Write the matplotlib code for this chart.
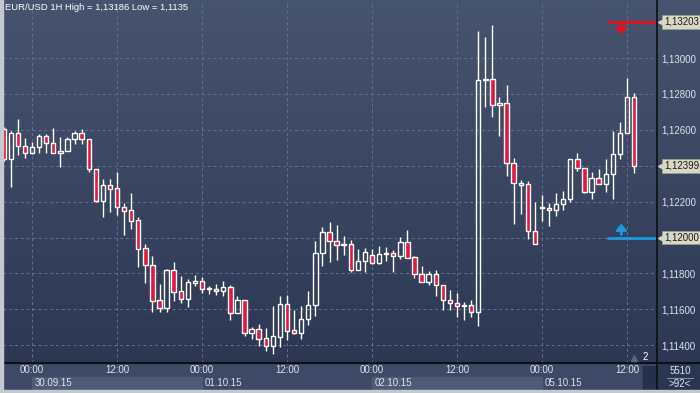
import matplotlib.pyplot as plt
import numpy as np
from matplotlib import transforms
from matplotlib.colors import LinearSegmentedColormap
from matplotlib.lines import Line2D
from matplotlib.patches import Rectangle

# hourly candles, index 0 = 30.09.15 00:00
hours = list(range(-4, 86))
opens = [1.12604, 1.12437, 1.12582, 1.12510, 1.12471, 1.12504, 1.12565, 1.12526, 1.12471, 1.12482,
         1.12549, 1.12582, 1.12549, 1.12382, 1.12203, 1.12292, 1.12276, 1.12170, 1.12153, 1.12097,
         1.11941, 1.11847, 1.11652, 1.11607, 1.11819, 1.11702, 1.11657, 1.11746, 1.11758, 1.11713,
         1.11713, 1.11702, 1.11724, 1.11579, 1.11652, 1.11468, 1.11490, 1.11440, 1.11396, 1.11446,
         1.11630, 1.11485, 1.11468, 1.11546, 1.11624, 1.11914, 1.12031, 1.11980, 1.11958, 1.11964,
         1.11819, 1.11869, 1.11903, 1.11858, 1.11908, 1.11914, 1.11897, 1.11975, 1.11891, 1.11797,
         1.11752, 1.11797, 1.11735, 1.11652, 1.11635, 1.11618, 1.11624, 1.11585, 1.12877, 1.12883,
         1.12738, 1.12749, 1.12415, 1.12292, 1.12298, 1.12036, 1.12170, 1.12164, 1.12153, 1.12187,
         1.12214, 1.12437, 1.12387, 1.12253, 1.12331, 1.12298, 1.12354, 1.12465, 1.12582, 1.12783]
highs = [1.12616, 1.12593, 1.12660, 1.12554, 1.12532, 1.12577, 1.12577, 1.12610, 1.12560, 1.12560,
         1.12593, 1.12604, 1.12549, 1.12382, 1.12326, 1.12326, 1.12365, 1.12192, 1.12248, 1.12114,
         1.11964, 1.11897, 1.11741, 1.11824, 1.11864, 1.11786, 1.11769, 1.11791, 1.11780, 1.11730,
         1.11741, 1.11758, 1.11735, 1.11674, 1.11652, 1.11501, 1.11518, 1.11496, 1.11618, 1.11674,
         1.11680, 1.11596, 1.11618, 1.11702, 1.11980, 1.12059, 1.12086, 1.12070, 1.12008, 1.11986,
         1.11936, 1.11941, 1.11936, 1.11953, 1.11947, 1.11930, 1.12003, 1.12042, 1.11897, 1.11841,
         1.11813, 1.11819, 1.11735, 1.11708, 1.11691, 1.11641, 1.11652, 1.13150, 1.13117, 1.13186,
         1.12783, 1.12850, 1.12443, 1.12320, 1.12315, 1.12198, 1.12237, 1.12192, 1.12248, 1.12259,
         1.12437, 1.12471, 1.12387, 1.12365, 1.12382, 1.12437, 1.12593, 1.12643, 1.12889, 1.12805]
lows = [1.12426, 1.12281, 1.12460, 1.12443, 1.12465, 1.12471, 1.12471, 1.12471, 1.12393, 1.12482,
        1.12521, 1.12521, 1.12365, 1.12198, 1.12114, 1.12142, 1.12125, 1.12014, 1.12047, 1.11836,
        1.11746, 1.11585, 1.11585, 1.11585, 1.11646, 1.11635, 1.11613, 1.11730, 1.11691, 1.11685,
        1.11680, 1.11674, 1.11540, 1.11579, 1.11451, 1.11434, 1.11396, 1.11368, 1.11350, 1.11390,
        1.11429, 1.11462, 1.11434, 1.11513, 1.11563, 1.11841, 1.11864, 1.11875, 1.11903, 1.11808,
        1.11819, 1.11808, 1.11852, 1.11852, 1.11869, 1.11808, 1.11880, 1.11886, 1.11774, 1.11752,
        1.11735, 1.11674, 1.11596, 1.11596, 1.11557, 1.11540, 1.11557, 1.11507, 1.12727, 1.12671,
        1.12565, 1.12343, 1.12075, 1.12131, 1.11992, 1.11964, 1.12092, 1.12064, 1.12120, 1.12153,
        1.12198, 1.12370, 1.12248, 1.12214, 1.12298, 1.12253, 1.12214, 1.12437, 1.12582, 1.12359]
closes = [1.12437, 1.12582, 1.12510, 1.12471, 1.12504, 1.12565, 1.12526, 1.12471, 1.12482, 1.12549,
          1.12582, 1.12549, 1.12382, 1.12203, 1.12292, 1.12270, 1.12170, 1.12148, 1.12092, 1.11936,
          1.11847, 1.11646, 1.11607, 1.11819, 1.11696, 1.11657, 1.11752, 1.11758, 1.11713, 1.11719,
          1.11702, 1.11724, 1.11579, 1.11652, 1.11468, 1.11490, 1.11434, 1.11396, 1.11451, 1.11630,
          1.11479, 1.11468, 1.11546, 1.11624, 1.11914, 1.12031, 1.11980, 1.11958, 1.11964, 1.11819,
          1.11869, 1.11919, 1.11858, 1.11908, 1.11914, 1.11897, 1.11975, 1.11886, 1.11797, 1.11752,
          1.11797, 1.11735, 1.11652, 1.11635, 1.11618, 1.11624, 1.11585, 1.12877, 1.12883, 1.12738,
          1.12749, 1.12415, 1.12304, 1.12304, 1.12036, 1.11964, 1.12164, 1.12153, 1.12187, 1.12214,
          1.12437, 1.12387, 1.12253, 1.12331, 1.12298, 1.12354, 1.12465, 1.12582, 1.12783, 1.12399]

# 1,12400 and 1,12000 are hidden behind the price tags in the original
price_levels = [1.114, 1.116, 1.118, 1.120, 1.122, 1.124, 1.126, 1.128, 1.130]
price_labels = ['1,11400', '1,11600', '1,11800', '', '1,12200',
                '', '1,12600', '1,12800', '1,13000']
time_ticks = [0, 12, 24, 36, 48, 60, 72, 84]
time_labels = ['00:00', '12:00'] * 4
day_starts = [0, 24, 48, 72]
day_labels = ['30.09.15', '01.10.15', '02.10.15', '05.10.15']
resistance = 1.13203
support = 1.12000
last_price = 1.12399
title = 'EUR/USD 1H High = 1,13186 Low = 1,1135'

W, H = 700, 393
BG_TOP, BG_BOT = '#47546f', '#2a3552'
TXT = '#dde4ee'
RED = '#e3173e'
plt.rcParams['font.family'] = ['Liberation Sans', 'DejaVu Sans']

fig = plt.figure(figsize=(7, 3.93), dpi=100)


def fx(px):
    return px / W


def fy(py):
    return 1 - py / H


# background gradient over whole figure
bg = fig.add_axes([0, 0, 1, 1], zorder=-10)
grad = np.linspace(0, 1, 256).reshape(-1, 1)
cmap = LinearSegmentedColormap.from_list('bg', [BG_TOP, BG_BOT])
bg.imshow(grad, aspect='auto', cmap=cmap, extent=[0, 1, 0, 1])
bg.axis('off')

# main price axes
ax = fig.add_axes([fx(3), fy(363), fx(653), 362 / H])
ax.patch.set_alpha(0)
ax.set_xlim(-4.1, 88.1)
ax.set_ylim(1.11301, 1.13318)
for s in ax.spines.values():
    s.set_visible(False)
ax.set_xticks(time_ticks)
ax.set_yticks(price_levels)
ax.grid(color='#63728f', linestyle=(0, (3, 3)), linewidth=0.7)
ax.tick_params(length=0, labelbottom=False, labelleft=False, labelright=True,
               labelsize=7, labelcolor=TXT, pad=4)
ax.set_yticklabels(price_labels)

x = np.array(hours)
o = np.array(opens)
h = np.array(highs)
l = np.array(lows)
c = np.array(closes)
up = c >= o
top = np.maximum(o, c)
bot = np.minimum(o, c)
ax.vlines(x, top, h, color='white', lw=1, zorder=3)
ax.vlines(x, l, bot, color='white', lw=1, zorder=3)
ax.bar(x[up], (top - bot)[up], bottom=bot[up], width=0.62, facecolor='none',
       edgecolor='white', linewidth=1, zorder=4)
ax.bar(x[~up], (top - bot)[~up], bottom=bot[~up], width=0.62, facecolor=RED,
       edgecolor='white', linewidth=1, zorder=4)

# alert levels
ax.hlines(resistance, 81.2, 88.1, color='#e8101c', lw=2, zorder=5)
ax.hlines(support, 81.2, 88.1, color='#1a9be0', lw=2, zorder=5)


def off(dy):
    return transforms.offset_copy(ax.transData, fig=fig, y=dy, units='dots')


arrow_style = '-|>,head_width=0.45,head_length=0.55'
ax.annotate('', xy=(83.2, resistance), xycoords=off(-13), xytext=(83.2, resistance),
            textcoords=off(-3), arrowprops=dict(arrowstyle=arrow_style, color='#e8101c',
                                                lw=1.8, shrinkA=0, shrinkB=0, mutation_scale=7))
ax.annotate('', xy=(83.2, support), xycoords=off(14), xytext=(83.2, support),
            textcoords=off(3), arrowprops=dict(arrowstyle=arrow_style, color='#1a9be0',
                                               lw=1.8, shrinkA=0, shrinkB=0, mutation_scale=7))

# price tags on the right scale
yblend = transforms.blended_transform_factory(ax.transAxes, ax.transData)
for val in [resistance, last_price, support]:
    ax.annotate(('%.5f' % val).replace('.', ','), xy=(1, val), xycoords=yblend,
                xytext=(6, 0), textcoords='offset points', ha='left', va='center',
                fontsize=7, color='#1b1b1b', annotation_clip=False, zorder=10,
                bbox=dict(boxstyle='square,pad=0.2', fc='#d8d8c8', ec='#9c9c8c', lw=0.6))
    ax.plot([1.0], [val], marker='<', ms=5, color='#d8d8c8',
            transform=transforms.offset_copy(yblend, fig=fig, x=5, units='dots'),
            clip_on=False, zorder=10)

fig.text(fx(5), fy(8), title, fontsize=6.8, color='white', va='center', ha='left')

# time axis panel
axb = fig.add_axes([fx(3), fy(390), fx(653), 27 / H])
axb.set_xlim(-4.1, 88.1)
axb.set_ylim(0, 1)
axb.axis('off')
axb.add_patch(Rectangle((0, 0), 1, 1, transform=axb.transAxes, color='#3d4966', zorder=0))
for i, d in enumerate(day_starts):
    if i % 2 == 0:
        axb.axvspan(d, d + 24, ymin=0.04, ymax=0.48, color='#4e5b76', zorder=1)
    axb.text(d + 0.4, 0.26, day_labels[i], fontsize=7, color=TXT, va='center', ha='left', zorder=2)
for t, lab in zip(time_ticks, time_labels):
    axb.text(t, 0.73, lab, fontsize=7, color=TXT, va='center', ha='center', zorder=2)

# frame lines and misc
fig.add_artist(Rectangle((fx(643), fy(389)), fx(13), 23 / H, color='#27304a', zorder=5))
fig.add_artist(Line2D([0, 1], [fy(363), fy(363)], color='#0d0f14', lw=1.5, zorder=6))
fig.add_artist(Line2D([fx(656.5), fx(656.5)], [fy(390), 1], color='#0d0f14', lw=1.2, zorder=6))
fig.add_artist(Rectangle((0, 0), fx(3), 1, color='#c3c8d1', zorder=7))
fig.add_artist(Rectangle((0, 0), 1, 3 / H, color='#c3c8d1', zorder=7))
fig.text(fx(643), fy(357), '2', fontsize=7, color='white', ha='left', va='center')
fig.add_artist(Line2D([fx(634)], [fy(358)], marker='^', ms=5, color='#59657f', zorder=6))
fig.text(fx(680), fy(371), '5510', fontsize=7, color=TXT, ha='center', va='center')
fig.add_artist(Line2D([fx(667), fx(693)], [fy(377.5), fy(377.5)], color='#9aa3b5', lw=0.6))
fig.text(fx(680), fy(384), '>92<', fontsize=7, color=TXT, ha='center', va='center')

fig.savefig('out.png', dpi=100)
